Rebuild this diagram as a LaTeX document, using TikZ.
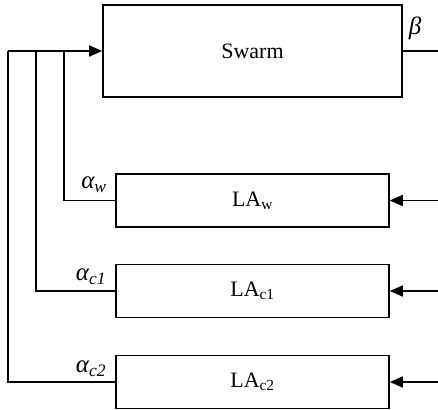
\documentclass[tikz,border=0pt]{standalone}
\usepackage{fontspec}
\setmainfont{Liberation Serif}
\usetikzlibrary{arrows.meta}
\begin{document}
\begin{tikzpicture}[x=1pt,y=-1pt,
  box/.style={draw, line width=1.6pt, inner sep=0pt, minimum width=273pt, minimum height=53pt, font=\fontsize{22}{26}\selectfont},
  conn/.style={line width=1.6pt},
  arr/.style={line width=1.6pt, -{Triangle[length=13pt,width=11pt]}},
  lab/.style={font=\fontsize{25}{28}\selectfont\itshape, inner sep=0pt}]
\useasboundingbox (0,0) rectangle (438,409);
\node[box, minimum width=299pt, minimum height=92pt, text depth=-7.5pt] (swarm) at (252.5,51) {Swarm};
\node[box] (law) at (252.5,200.5) {LA\textsubscript{w}};
\node[box] (lac1) at (252.5,291) {LA\textsubscript{c1}};
\node[box] (lac2) at (252.5,382) {LA\textsubscript{c2}};
\coordinate (j1) at (64,51);
\coordinate (j2) at (36,51);
\coordinate (j3) at (8,51);
\coordinate (r0) at (440,51);
\coordinate (r1) at (440,200.5);
\coordinate (r2) at (440,291);
\coordinate (r3) at (440,382);
\draw[conn] (law.west) -| (j1);
\draw[conn] (lac1.west) -| (j2);
\draw[conn] (lac2.west) -| (j3);
\draw[arr] (j3) -- (swarm.west);
\draw[conn] (swarm.east) -- (r0);
\draw[arr] (r1) -- (law.east);
\draw[arr] (r2) -- (lac1.east);
\draw[arr] (r3) -- (lac2.east);
\node[lab] (aw) at (94,185) {α\textsubscript{w}};
\node[lab] (ac1) at (91,277) {α\textsubscript{c1}};
\node[lab] (ac2) at (91,369) {α\textsubscript{c2}};
\node[lab] (beta) at (415,28) {β};
\end{tikzpicture}
\end{document}
